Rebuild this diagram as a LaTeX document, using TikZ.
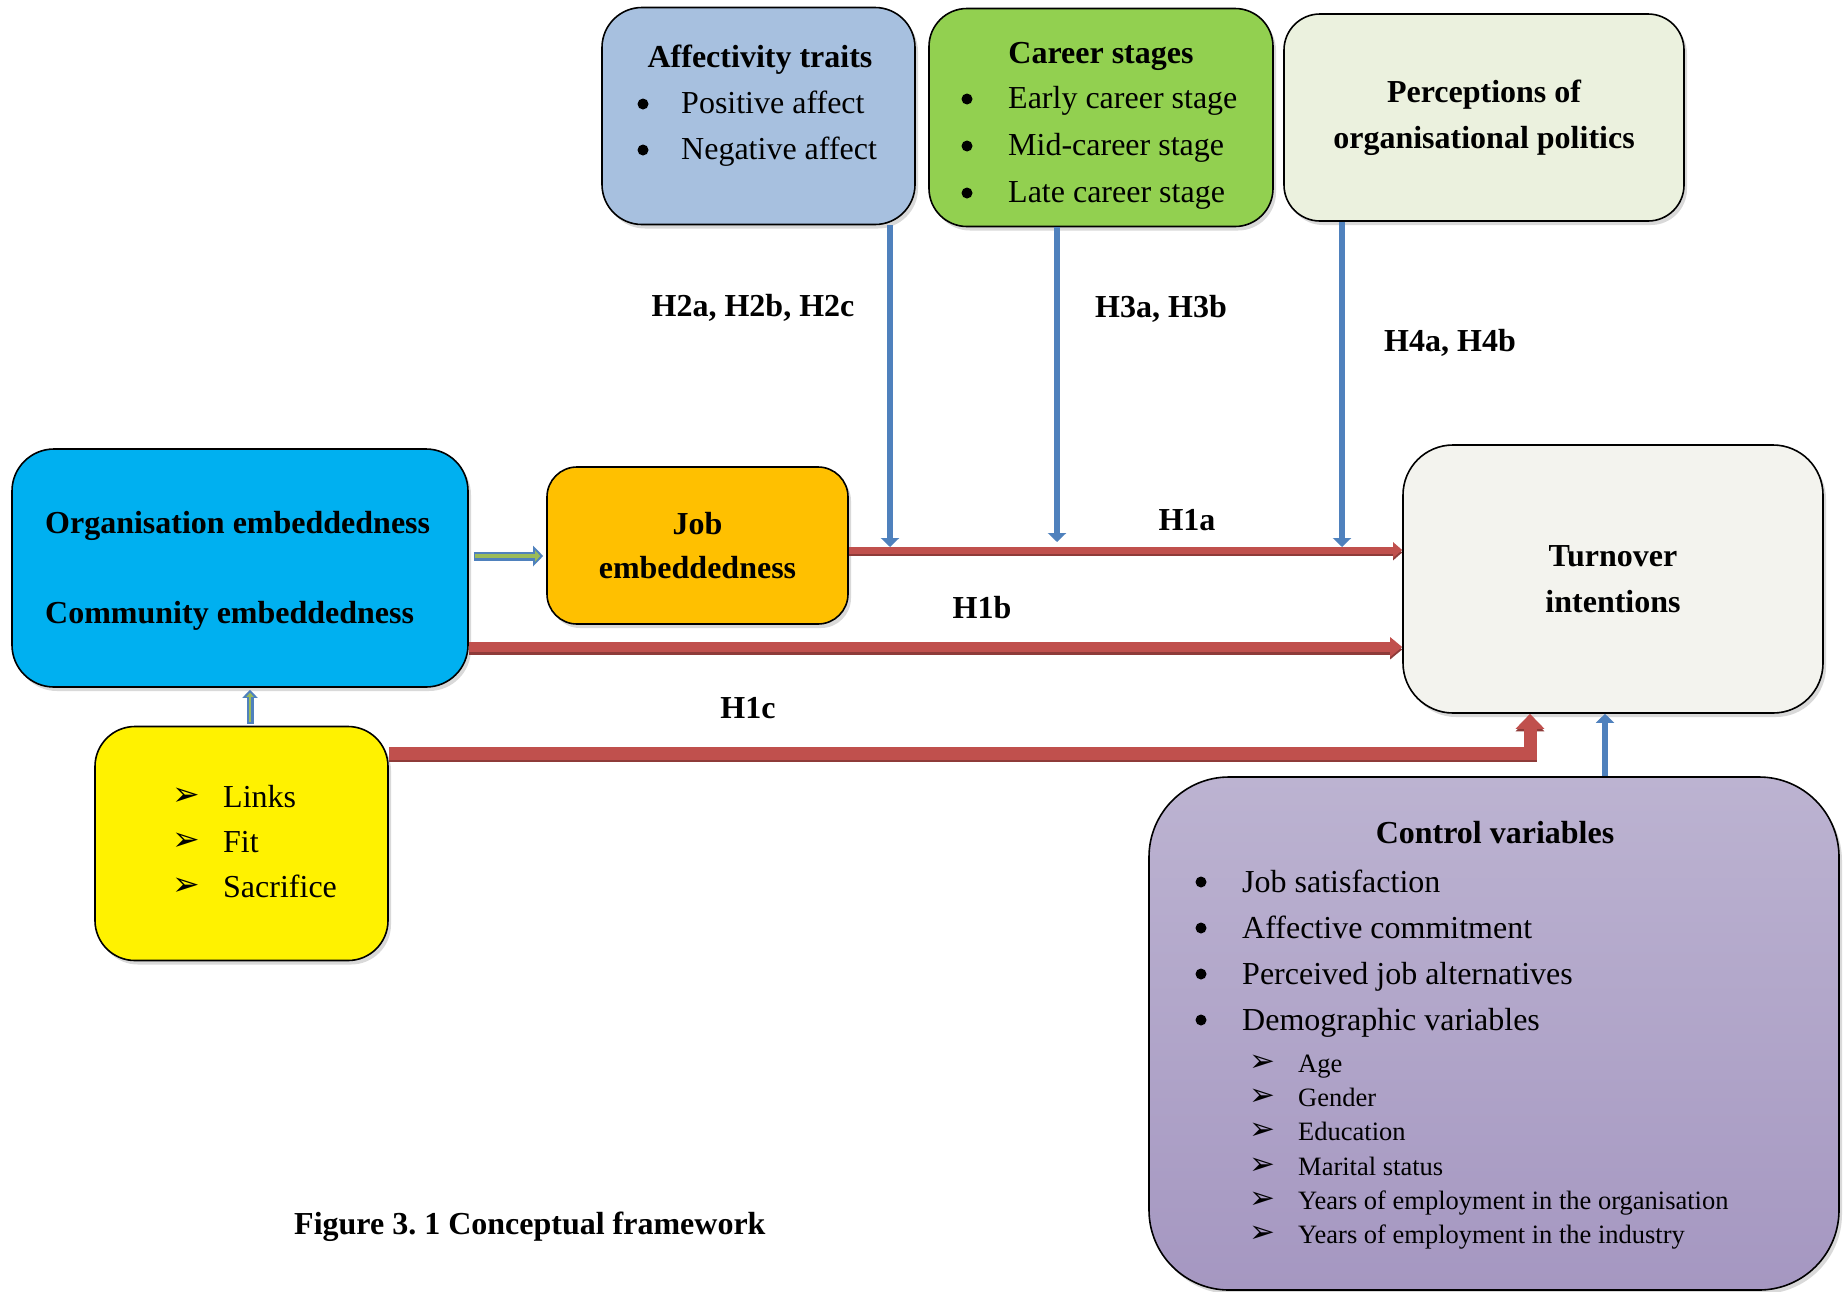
\documentclass[tikz,border=0pt]{standalone}
\usepackage{fontspec}
\setmainfont{Liberation Serif}
\newfontfamily\dingfont{DejaVu Sans}
\usetikzlibrary{arrows.meta,shadows}
\definecolor{affblue}{HTML}{A7C0DF}
\definecolor{careergreen}{HTML}{92D050}
\definecolor{percfill}{HTML}{EBF1DE}
\definecolor{orgblue}{HTML}{00B0F0}
\definecolor{jobfill}{HTML}{FFC000}
\definecolor{turnfill}{HTML}{F3F3EE}
\definecolor{ctop}{HTML}{BCB3D1}
\definecolor{cbot}{HTML}{A597C1}
\definecolor{arrowred}{HTML}{C0504D}
\definecolor{reddark}{HTML}{8E3B39}
\definecolor{arrowblue}{HTML}{4F81BD}
\definecolor{olivefill}{HTML}{9BBB59}
\tikzset{
  box/.style={draw=black, line width=1.6pt, rounded corners=#1, inner sep=0pt,
    drop shadow={shadow xshift=3pt, shadow yshift=-4pt, opacity=0.3}},
  boldtxt/.style={font=\fontsize{32pt}{46pt}\selectfont\bfseries, inner sep=0pt},
  regtxt/.style={font=\fontsize{32pt}{46pt}\selectfont, inner sep=0pt, anchor=base west},
  subtxt/.style={font=\fontsize{26.5pt}{34pt}\selectfont, inner sep=0pt, anchor=base west},
  dotb/.style={circle, fill=black, inner sep=0pt, minimum size=11pt},
  arrbig/.style={font=\fontsize{33pt}{33pt}\selectfont\dingfont, inner sep=0pt, anchor=center},
  arrsmall/.style={font=\fontsize{31pt}{31pt}\selectfont\dingfont, inner sep=0pt, anchor=center},
  bluearrow/.style={draw=arrowblue, line width=6pt, -{Triangle[width=18pt,length=9pt]}},
  redshade/.style={draw=reddark, transform canvas={yshift=-2.5pt}},
}
\begin{document}
\begin{tikzpicture}[x=1pt,y=-1pt]
\useasboundingbox (0,0) rectangle (1844,1291);

% boxes
\node[box=40pt, fill=affblue, minimum width=313pt, minimum height=217pt] (aff) at (758.5,116) {};
\node[box=38pt, fill=careergreen, minimum width=344pt, minimum height=218pt] (career) at (1101,117.5) {};
\node[box=36pt, fill=percfill, minimum width=400pt, minimum height=207pt, boldtxt, align=center] (perc) at (1484,117.5) {Perceptions of\\organisational politics};
\node[box=42pt, fill=orgblue, minimum width=456pt, minimum height=238pt] (org) at (240,568) {};
\node[box=30pt, fill=jobfill, minimum width=301pt, minimum height=157pt, font=\fontsize{32pt}{44pt}\selectfont\bfseries, align=center] (job) at (697.5,545.5) {Job\\embeddedness};
\node[box=50pt, fill=turnfill, minimum width=420pt, minimum height=268pt, boldtxt, align=center] (turn) at (1613,579) {Turnover\\intentions};
\node[box=40pt, fill=yellow, minimum width=293pt, minimum height=234pt] (yel) at (241.5,843.5) {};
\node[box=80pt, top color=ctop, bottom color=cbot, minimum width=690pt, minimum height=513pt] (ctrl) at (1494,1033.5) {};

% affectivity text
\node[boldtxt, anchor=base] (afft) at (760,67) {Affectivity traits};
\node[dotb] (affb1) at (643,104) {};
\node[regtxt] (aff1) at (681,113) {Positive affect};
\node[dotb] (affb2) at (643,150) {};
\node[regtxt] (aff2) at (681,159) {Negative affect};

% career text
\node[boldtxt, anchor=base] (cart) at (1101,63) {Career stages};
\node[dotb] (carb1) at (967,99) {};
\node[regtxt] (car1) at (1008,108) {Early career stage};
\node[dotb] (carb2) at (967,146) {};
\node[regtxt] (car2) at (1008,155) {Mid-career stage};
\node[dotb] (carb3) at (967,193) {};
\node[regtxt] (car3) at (1008,202) {Late career stage};

% org text
\node[boldtxt, anchor=base west] (org1) at (45,533) {Organisation embeddedness};
\node[boldtxt, anchor=base west] (org2) at (45,623) {Community embeddedness};

% yellow list
\node[arrbig] (ya1) at (186,797) {➢};
\node[regtxt] (y1) at (223,807) {Links};
\node[arrbig] (ya2) at (186,842) {➢};
\node[regtxt] (y2) at (223,852) {Fit};
\node[arrbig] (ya3) at (186,887) {➢};
\node[regtxt] (y3) at (223,897) {Sacrifice};

% control text
\node[boldtxt, anchor=base] (ctt) at (1495,843) {Control variables};
\node[dotb] (cb1) at (1201,882) {};
\node[regtxt] (c1) at (1242,892) {Job satisfaction};
\node[dotb] (cb2) at (1201,928) {};
\node[regtxt] (c2) at (1242,938) {Affective commitment};
\node[dotb] (cb3) at (1201,974) {};
\node[regtxt] (c3) at (1242,984) {Perceived job alternatives};
\node[dotb] (cb4) at (1201,1020) {};
\node[regtxt] (c4) at (1242,1030) {Demographic variables};
\node[arrsmall] (sa1) at (1262,1063) {➢};
\node[subtxt] (s1) at (1298,1072) {Age};
\node[arrsmall] (sa2) at (1262,1097) {➢};
\node[subtxt] (s2) at (1298,1106) {Gender};
\node[arrsmall] (sa3) at (1262,1131) {➢};
\node[subtxt] (s3) at (1298,1140) {Education};
\node[arrsmall] (sa4) at (1262,1166) {➢};
\node[subtxt] (s4) at (1298,1175) {Marital status};
\node[arrsmall] (sa5) at (1262,1200) {➢};
\node[subtxt] (s5) at (1298,1209) {Years of employment in the organisation};
\node[arrsmall] (sa6) at (1262,1234) {➢};
\node[subtxt] (s6) at (1298,1243) {Years of employment in the industry};

% labels
\node[boldtxt, anchor=base] (lh2) at (753,316) {H2a, H2b, H2c};
\node[boldtxt, anchor=base] (lh3) at (1161,317) {H3a, H3b};
\node[boldtxt, anchor=base] (lh4) at (1450,351) {H4a, H4b};
\node[boldtxt, anchor=base] (lh1a) at (1187,530) {H1a};
\node[boldtxt, anchor=base] (lh1b) at (982,618) {H1b};
\node[boldtxt, anchor=base] (lh1c) at (748,718) {H1c};
\node[boldtxt, anchor=base west] (cap) at (294,1234) {Figure 3.\ 1 Conceptual framework};

% coordinates
\coordinate (h1a) at (0,550);
\coordinate (h1b) at (0,647);
\coordinate (h1cc) at (1530,753);
\coordinate (a2) at (890,547);
\coordinate (a3) at (1057,542);
\coordinate (a4) at (1342,547);
\coordinate (ct) at (1605,0);
\coordinate (oj) at (0,556);
\coordinate (yo) at (250,0);

% red arrows (darker lower edge, then main)
\draw[redshade, line width=7pt, -{Triangle[width=15pt,length=9pt]}] (job.east |- h1a) -- (turn.west |- h1a);
\draw[draw=arrowred, line width=7pt, -{Triangle[width=15pt,length=9pt]}] (job.east |- h1a) -- (turn.west |- h1a);
\draw[redshade, line width=10pt, -{Triangle[width=19pt,length=12pt]}] (org.east |- h1b) -- (turn.west |- h1b);
\draw[draw=arrowred, line width=10pt, -{Triangle[width=19pt,length=12pt]}] (org.east |- h1b) -- (turn.west |- h1b);
\draw[redshade, line width=13pt, -{Triangle[width=28pt,length=15pt]}] (yel.east |- h1cc) -- (h1cc) -- (turn.south -| h1cc);
\draw[draw=arrowred, line width=13pt, -{Triangle[width=28pt,length=15pt]}] (yel.east |- h1cc) -- (h1cc) -- (turn.south -| h1cc);

% blue arrows
\draw[bluearrow] (aff.south -| a2) -- (a2);
\draw[bluearrow] (career.south -| a3) -- (a3);
\draw[bluearrow] (perc.south -| a4) -- (a4);
\draw[bluearrow] (ctrl.north -| ct) -- (turn.south -| ct);

% org -> job
\draw[draw=arrowblue, line width=9pt, -{Triangle[width=20pt,length=10pt]}, shorten <=5pt, shorten >=3pt] (org.east |- oj) -- (job.west |- oj);
\draw[draw=olivefill, line width=4pt, -{Triangle[width=11pt,length=5pt]}, shorten <=6.5pt, shorten >=6pt] (org.east |- oj) -- (job.west |- oj);

% yellow -> org
\draw[draw=arrowblue, line width=7pt, -{Triangle[width=15pt,length=8pt]}, shorten <=2pt, shorten >=2pt] (yel.north -| yo) -- (org.south -| yo);
\draw[draw=olivefill, line width=2.5pt, -{Triangle[width=7pt,length=4pt]}, shorten <=3.5pt, shorten >=5pt] (yel.north -| yo) -- (org.south -| yo);
\end{tikzpicture}
\end{document}
